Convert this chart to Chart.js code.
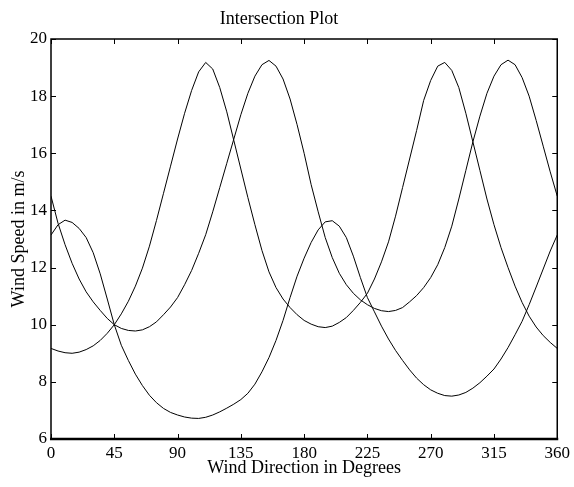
<!DOCTYPE html>
<html>
<head>
<meta charset="utf-8">
<script src="https://cdn.jsdelivr.net/npm/chart.js@4/dist/chart.umd.min.js"></script>
<style>
  html, body { margin: 0; padding: 0; background: #fff; }
  canvas { display: block; }
</style>
</head>
<body>
<canvas id="grafico" width="574" height="487"></canvas>
<script>
// wind direction in degrees, one sample every 5 degrees
const direcciones = [
    0, 5, 10, 15, 20, 25, 30, 35, 40, 45, 50, 55, 60, 65, 70, 75, 80, 85,
    90, 95, 100, 105, 110, 115, 120, 125, 130, 135, 140, 145, 150, 155, 160, 165, 170, 175,
    180, 185, 190, 195, 200, 205, 210, 215, 220, 225, 230, 235, 240, 245, 250, 255, 260, 265,
    270, 275, 280, 285, 290, 295, 300, 305, 310, 315, 320, 325, 330, 335, 340, 345, 350, 355, 360
];

const velocidadA = [
    14.5, 13.55, 12.8, 12.15, 11.6, 11.15, 10.8, 10.5, 10.22, 10.0, 9.87, 9.8, 9.78, 9.82, 9.93, 10.1, 10.35, 10.62,
    10.95, 11.4, 11.9, 12.5, 13.15, 13.95, 14.8, 15.65, 16.5, 17.35, 18.1, 18.7, 19.1, 19.25, 19.05, 18.6, 17.9, 17.0,
    16.0, 14.9, 13.95, 13.05, 12.35, 11.8, 11.4, 11.1, 10.87, 10.7, 10.57, 10.49, 10.46, 10.5, 10.6, 10.8, 11.02, 11.3,
    11.65, 12.1, 12.7, 13.45, 14.4, 15.4, 16.4, 17.3, 18.1, 18.7, 19.1, 19.26, 19.1, 18.65, 18.0, 17.15, 16.25, 15.35, 14.5
];

const velocidadB = [
    13.14, 13.5, 13.66, 13.58, 13.37, 13.05, 12.52, 11.78, 10.9, 10.0, 9.28, 8.75, 8.27, 7.87, 7.53, 7.27, 7.07, 6.93,
    6.84, 6.77, 6.73, 6.72, 6.76, 6.84, 6.95, 7.08, 7.22, 7.38, 7.6, 7.92, 8.35, 8.85, 9.45, 10.15, 10.95, 11.7,
    12.33, 12.88, 13.32, 13.6, 13.64, 13.45, 13.05, 12.4, 11.65, 10.95, 10.45, 9.95, 9.5, 9.1, 8.75, 8.42, 8.13, 7.9,
    7.72, 7.6, 7.52, 7.5, 7.54, 7.63, 7.78, 7.97, 8.2, 8.45, 8.8, 9.2, 9.65, 10.12, 10.7, 11.32, 11.95, 12.58, 13.14
];

const velocidadC = [
    9.17, 9.08, 9.02, 9.0, 9.04, 9.13, 9.26, 9.45, 9.7, 10.0, 10.38, 10.82, 11.35, 11.98, 12.75, 13.65, 14.6, 15.55,
    16.5, 17.4, 18.2, 18.85, 19.18, 18.95, 18.3, 17.45, 16.45, 15.45, 14.45, 13.5, 12.6, 11.85, 11.3, 10.9, 10.6, 10.35,
    10.15, 10.02, 9.93, 9.9, 9.95, 10.08, 10.25, 10.5, 10.78, 11.1, 11.6, 12.2, 12.9, 13.8, 14.8, 15.8, 16.8, 17.85,
    18.55, 19.05, 19.18, 18.9, 18.3, 17.4, 16.4, 15.4, 14.4, 13.5, 12.7, 12.0, 11.35, 10.78, 10.3, 9.92, 9.62, 9.38, 9.17
];

const ticksX = [0, 45, 90, 135, 180, 225, 270, 315, 360];
const ticksY = [6, 8, 10, 12, 14, 16, 18, 20];

const fuente = "'Liberation Serif', 'Times New Roman', serif";

function serie(valores) {
    return {
        data: direcciones.map((d, i) => ({ x: d, y: valores[i] })),
        borderColor: '#000',
        borderWidth: 1,
        pointRadius: 0,
        tension: 0,
        fill: false
    };
}

// caja alrededor del area y marcas hacia adentro en los cuatro lados
const marco = {
    id: 'marco',
    afterDraw(chart) {
        const { ctx, chartArea: a, scales: { x, y } } = chart;
        const largo = 5;
        ctx.save();
        ctx.strokeStyle = '#000';
        ctx.lineWidth = 1;
        ctx.beginPath();
        ticksX.forEach(v => {
            const px = Math.round(x.getPixelForValue(v)) + 0.5;
            ctx.moveTo(px, a.bottom); ctx.lineTo(px, a.bottom - largo);
            ctx.moveTo(px, a.top); ctx.lineTo(px, a.top + largo);
        });
        ticksY.forEach(v => {
            const py = Math.round(y.getPixelForValue(v)) + 0.5;
            ctx.moveTo(a.left, py); ctx.lineTo(a.left + largo, py);
            ctx.moveTo(a.right, py); ctx.lineTo(a.right - largo, py);
        });
        ctx.stroke();

        ctx.lineWidth = 1.5;
        ctx.beginPath();
        ctx.moveTo(a.left, a.bottom);
        ctx.lineTo(a.left, a.top);
        ctx.lineTo(a.right, a.top);
        ctx.lineTo(a.right, a.bottom);
        ctx.stroke();

        ctx.lineWidth = 2.5;
        ctx.beginPath();
        ctx.moveTo(a.left - 1, a.bottom);
        ctx.lineTo(a.right + 1, a.bottom);
        ctx.stroke();
        ctx.restore();
    }
};

const ctx = document.getElementById('grafico').getContext('2d');
new Chart(ctx, {
    type: 'line',
    data: {
        datasets: [serie(velocidadA), serie(velocidadB), serie(velocidadC)]
    },
    options: {
        responsive: false,
        devicePixelRatio: 1,
        animation: false,
        layout: { padding: { left: 0, right: 16, top: 0, bottom: 0 } },
        plugins: {
            legend: { display: false },
            tooltip: { enabled: false },
            title: {
                display: true,
                text: 'Intersection Plot',
                color: '#000',
                font: { family: fuente, size: 18, weight: 'normal' },
                padding: { top: 8, bottom: 9.4 }
            }
        },
        scales: {
            x: {
                type: 'linear',
                min: 0,
                max: 360,
                afterBuildTicks: s => { s.ticks = ticksX.map(v => ({ value: v })); },
                afterFit: s => { s.height = 48; },
                grid: { display: false, drawTicks: false },
                border: { display: false },
                ticks: {
                    color: '#000',
                    padding: 4,
                    maxRotation: 0,
                    autoSkip: false,
                    font: { family: fuente, size: 17 }
                },
                title: {
                    display: true,
                    text: 'Wind Direction in Degrees',
                    color: '#000',
                    font: { family: fuente, size: 18 },
                    padding: { top: 0, bottom: 8 }
                }
            },
            y: {
                type: 'linear',
                min: 6,
                max: 20,
                afterBuildTicks: s => { s.ticks = ticksY.map(v => ({ value: v })); },
                afterFit: s => { s.width = 51; },
                grid: { display: false, drawTicks: false },
                border: { display: false },
                ticks: {
                    color: '#000',
                    padding: 4,
                    autoSkip: false,
                    font: { family: fuente, size: 17 }
                },
                title: {
                    display: true,
                    text: 'Wind Speed in m/s',
                    color: '#000',
                    font: { family: fuente, size: 18 },
                    padding: { top: 8, bottom: 0 }
                }
            }
        }
    },
    plugins: [marco]
});
</script>
</body>
</html>
